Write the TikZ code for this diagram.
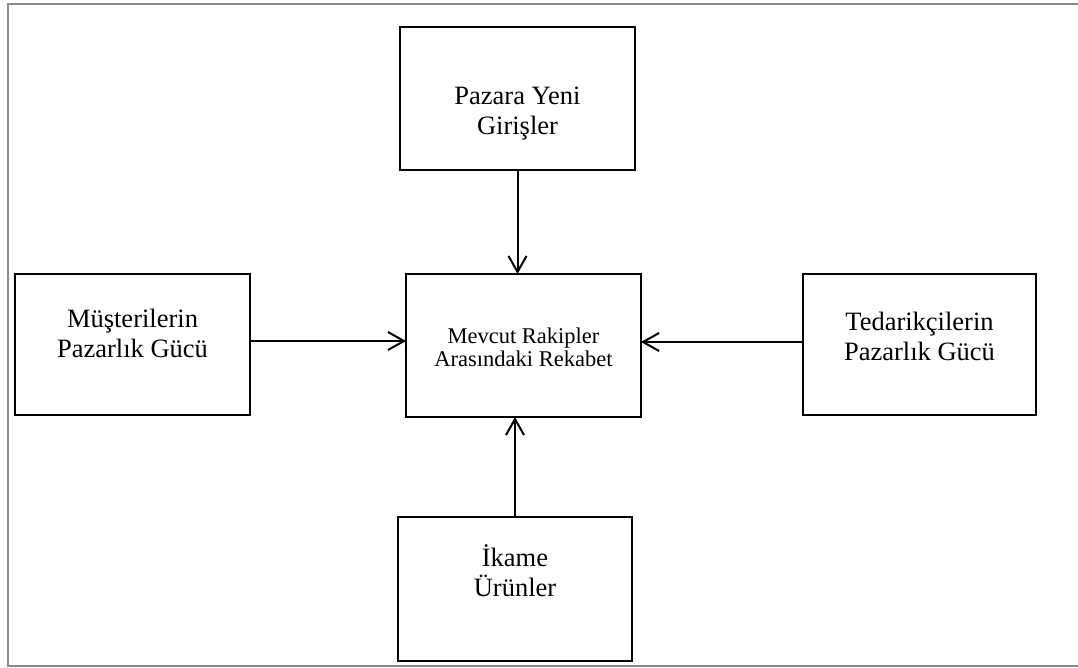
\documentclass[tikz,border=0pt]{standalone}
\usepackage{fontspec}
\setmainfont{Liberation Serif}
\usetikzlibrary{arrows.meta}
\begin{document}
\begin{tikzpicture}[x=1pt,y=-1pt,
  forcebox/.style={draw=black,line width=1.3pt,minimum width=#1,minimum height=143pt,inner sep=0pt,outer sep=0pt},
  forcebox/.default=235pt,
  boxtext/.style={align=center,font=\fontsize{26.5}{30}\selectfont},
  midtext/.style={align=center,font=\fontsize{22.5}{23.5}\selectfont},
  force/.style={line width=2pt,-{Straight Barb[length=16pt,width=18pt,line width=2pt]}},
  frame/.style={draw=black!45,line width=2pt}]
\useasboundingbox (0,0) rectangle (1078,668);
\draw[frame] (1090,4) -- (8,4) -- (8,666) -- (1090,666);
% boxes
\node[forcebox] (top) at (517.5,98.5) {};
\node[forcebox,minimum height=141pt] (left) at (132.5,344.5) {};
\node[forcebox] (mid) at (523.5,345.5) {};
\node[forcebox=233pt,minimum height=141pt] (right) at (919.5,344.5) {};
\node[forcebox=234pt,minimum height=144pt] (bottom) at (515,589) {};
% texts
\node[boxtext] (toptxt) at ([yshift=-15pt]top.center) {Pazara Yeni\\Girişler};
\node[boxtext] (lefttxt) at ([yshift=11pt]left.center) {Müşterilerin\\Pazarlık Gücü};
\node[midtext] (midtxt) at ([yshift=-2pt]mid.center) {Mevcut Rakipler\\Arasındaki Rekabet};
\node[boxtext] (righttxt) at ([yshift=8pt]right.center) {Tedarikçilerin\\Pazarlık Gücü};
\node[boxtext] (bottomtxt) at ([yshift=18pt]bottom.center) {İkame\\Ürünler};
% connectors
\draw[force] (top.south) -- (top.south |- mid.north);
\draw[force] (bottom.north) -- (bottom.north |- mid.south);
\draw[force] (left.east |- 0,341) -- (mid.west |- 0,341);
\draw[force] (right.west |- 0,342) -- (mid.east |- 0,342);
\end{tikzpicture}
\end{document}
